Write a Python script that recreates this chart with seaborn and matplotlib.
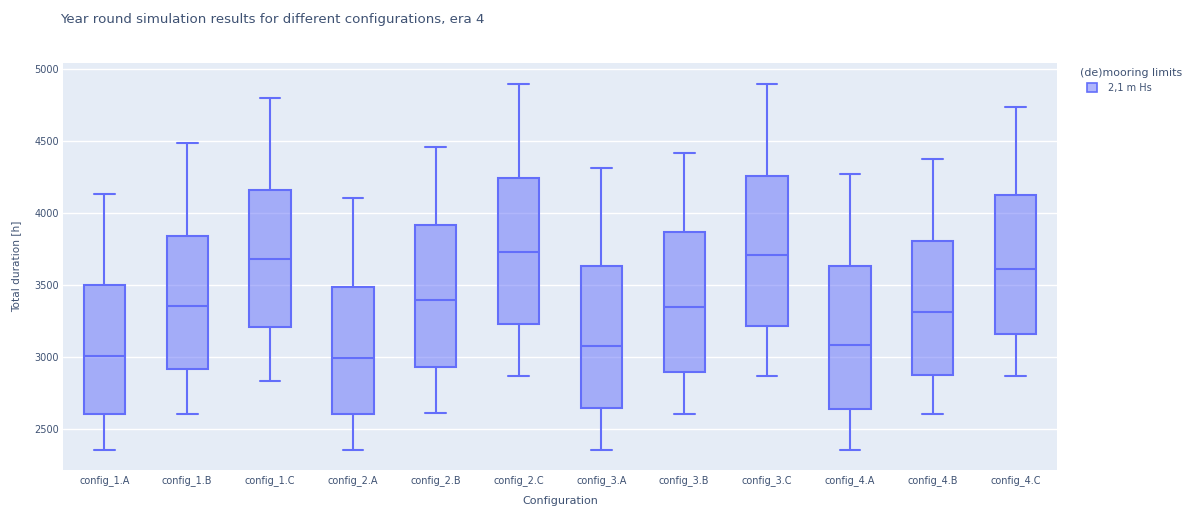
import numpy as np
import pandas as pd
import matplotlib
matplotlib.use("Agg")
import matplotlib.pyplot as plt
import seaborn as sns

# Five-number summaries (min, Q1, median, Q3, max) of total duration per configuration
configs = ["config_1.A", "config_1.B", "config_1.C",
           "config_2.A", "config_2.B", "config_2.C",
           "config_3.A", "config_3.B", "config_3.C",
           "config_4.A", "config_4.B", "config_4.C"]
mins    = [2353, 2609, 2836, 2359, 2611, 2870, 2359, 2609, 2871, 2359, 2609, 2871]
q1s     = [2609, 2917, 3211, 2607, 2930, 3230, 2646, 2898, 3214, 2644, 2880, 3165]
medians = [3006, 3358, 3684, 2993, 3397, 3728, 3075, 3350, 3707, 3084, 3313, 3612]
q3s     = [3499, 3844, 4160, 3487, 3916, 4247, 3633, 3869, 4259, 3631, 3811, 4129]
maxs    = [4136, 4487, 4802, 4106, 4458, 4900, 4316, 4421, 4898, 4275, 4377, 4736]
limit_label = "2,1 m Hs"
legend_title = "(de)mooring limits"

rows = []
for c, a, b, m, d, e in zip(configs, mins, q1s, medians, q3s, maxs):
    for v in (a, b, m, d, e):
        rows.append({"Configuration": c, "Total duration [h]": v,
                     legend_title: limit_label})
df = pd.DataFrame(rows)

LINE = "#636EFA"
FILL = (99 / 255, 110 / 255, 250 / 255, 0.5)
BG = "#E5ECF6"
TXT = "#3f5273"

sns.set_theme(style="darkgrid", rc={
    "axes.facecolor": BG,
    "grid.color": "white",
    "grid.linewidth": 1.0,
    "axes.edgecolor": BG,
})
plt.rcParams["font.family"] = ["DejaVu Sans"]

fig = plt.figure(figsize=(11.87, 5.07), dpi=100)
ax = fig.add_axes([63 / 1187, 1 - 470 / 507, (1057 - 63) / 1187, (470 - 63) / 507])

sns.boxplot(data=df, x="Configuration", y="Total duration [h]",
            hue=legend_title, palette=[LINE], saturation=1,
            width=0.5, whis=(0, 100), linecolor=LINE, linewidth=1.5,
            showfliers=False, ax=ax)

for p in ax.patches:
    p.set_facecolor(FILL)
    p.set_edgecolor(LINE)

ax.set_ylim(2217, 5044)
ax.set_xlim(-0.5, len(configs) - 0.5)
ax.set_yticks([2500, 3000, 3500, 4000, 4500, 5000])
ax.grid(axis="x", visible=False)
ax.grid(axis="y", visible=True, color="white", linewidth=1)
for s in ax.spines.values():
    s.set_visible(False)
ax.tick_params(axis="both", length=0, labelsize=7.0, labelcolor=TXT)
ax.tick_params(axis="y", pad=3)
ax.tick_params(axis="x", pad=4)
ax.set_xlabel("Configuration", fontsize=8.0, color=TXT, labelpad=7)
ax.set_ylabel("Total duration [h]", fontsize=7.6, color=TXT, labelpad=9)

fig.text(60 / 1187, 1 - 20 / 507, "Year round simulation results for different configurations, era 4",
         fontsize=9.6, color=TXT, ha="left", va="center")

# legend heading drawn separately so the entry can sit indented beneath it
fig.text(1080 / 1187, 1 - 73 / 507, legend_title, fontsize=7.9, color=TXT,
         ha="left", va="center")
sns.move_legend(ax, "upper left", bbox_to_anchor=(1087 / 1187, 1 - 83 / 507),
                bbox_transform=fig.transFigure, frameon=False, title=None,
                fontsize=7.0, handlelength=1.05, handleheight=1.05,
                handletextpad=1.1, borderpad=0.0, borderaxespad=0.0)
leg = ax.get_legend()
for t in leg.get_texts():
    t.set_color(TXT)
for h in leg.legend_handles:
    h.set_facecolor(FILL)
    h.set_edgecolor(LINE)
    h.set_linewidth(1.2)

fig.savefig("out.png", dpi=100, facecolor="white")
